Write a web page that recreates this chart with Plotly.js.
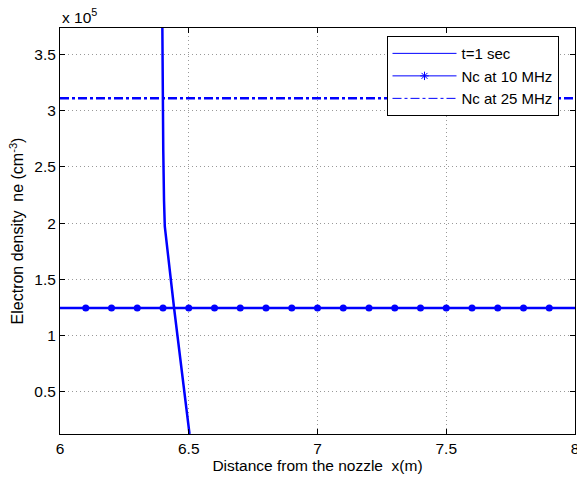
<!DOCTYPE html>
<html>
<head>
<meta charset="utf-8">
<script src="https://cdn.plot.ly/plotly-3.0.1.min.js"></script>
<style>html,body{margin:0;padding:0;background:#fff;}#plot{width:577px;height:479px;}</style>
</head>
<body>
<div id="plot"></div>
<script>
// Electron density values in units of 1e5 cm^-3
const curveX = [6.3975, 6.399, 6.401, 6.404, 6.407, 6.443, 6.503];
const curveY = [3.736, 3.09, 2.65, 2.20, 1.97, 1.245, 0.124];
const ncX = [6.0, 6.1, 6.2, 6.3, 6.4, 6.5, 6.6, 6.7, 6.8, 6.9, 7.0, 7.1, 7.2, 7.3, 7.4, 7.5, 7.6, 7.7, 7.8, 7.9, 8.0];
const nc10 = 1.245;
const nc25 = 3.11;
const markerX = [6.1, 6.2, 6.3, 6.4, 6.5, 6.6, 6.7, 6.8, 6.9, 7.0, 7.1, 7.2, 7.3, 7.4, 7.5, 7.6, 7.7, 7.8, 7.9];
const xTicks = [6, 6.5, 7, 7.5, 8];
const xTickText = ['6', '6.5', '7', '7.5', '8'];
const yTicks = [0.5, 1, 1.5, 2, 2.5, 3, 3.5];
const yTickText = ['0.5', '1', '1.5', '2', '2.5', '3', '3.5'];
const legendNames = ['t=1 sec', 'Nc at 10 MHz', 'Nc at 25 MHz'];

const blue = '#0000ff';
const offX = [6.0];
const offY = [-10];
const traces = [
  {x: curveX, y: curveY, mode: 'lines', line: {color: blue, width: 2.5}, showlegend: false},
  {x: ncX, y: ncX.map(() => nc10), mode: 'lines', line: {color: blue, width: 2.5}, showlegend: false},
  {x: markerX, y: markerX.map(() => nc10), mode: 'markers', marker: {color: blue, size: 7, symbol: 'circle'}, showlegend: false},
  {x: ncX, y: ncX.map(() => nc25), mode: 'lines', line: {color: blue, width: 2.5, dash: 'dashdot'}, showlegend: false},
  // legend entries (thin lines like the reference legend), placed outside the visible range
  {x: offX, y: offY, mode: 'lines', name: legendNames[0], line: {color: blue, width: 1}},
  {x: offX, y: offY, mode: 'lines+markers', name: legendNames[1], line: {color: blue, width: 1}, marker: {color: blue, size: 7, symbol: 'asterisk-open', line: {color: blue, width: 1}}},
  {x: offX, y: offY, mode: 'lines', name: legendNames[2], line: {color: blue, width: 1, dash: 'dashdot'}}
];

const fam = 'Liberation Sans, Arial, Helvetica, sans-serif';
const axisCommon = {
  showline: true, mirror: 'ticks', linecolor: '#000', linewidth: 1,
  ticks: 'inside', ticklen: 5, tickcolor: '#000',
  showgrid: true, gridcolor: '#999999', griddash: '1px,3px', gridwidth: 1,
  zeroline: false, ticklabeloverflow: 'allow',
  tickfont: {family: fam, size: 15.5, color: '#000'}
};

const layout = {
  width: 577, height: 479,
  margin: {l: 60, r: 2, t: 28, b: 45},
  paper_bgcolor: '#fff', plot_bgcolor: '#fff',
  font: {family: fam, size: 15.5, color: '#000'},
  xaxis: Object.assign({}, axisCommon, {
    range: [6, 8], tickvals: xTicks, ticktext: xTickText,
    title: {text: 'Distance from the nozzle\u00a0\u00a0x(m)', font: {size: 15.5}, standoff: 0}
  }),
  yaxis: Object.assign({}, axisCommon, {
    range: [0.124, 3.736], tickvals: yTicks, ticktext: yTickText,
    title: {text: 'Electron density\u00a0\u00a0ne (cm<sup>-3</sup>)', font: {size: 16}, standoff: 6}
  }),
  legend: {
    x: 0.634, y: 0.98, xanchor: 'left', yanchor: 'top',
    bgcolor: '#fff', bordercolor: '#000', borderwidth: 1,
    font: {size: 15}, tracegroupgap: 0, itemwidth: 64
  },
  annotations: [{
    xref: 'paper', yref: 'paper', x: 0, y: 1, xanchor: 'left', yanchor: 'bottom',
    text: 'x 10<sup>5</sup>', showarrow: false, font: {size: 15.5}
  }]
};

Plotly.newPlot('plot', traces, layout, {displayModeBar: false, staticPlot: true});
</script>
</body>
</html>
